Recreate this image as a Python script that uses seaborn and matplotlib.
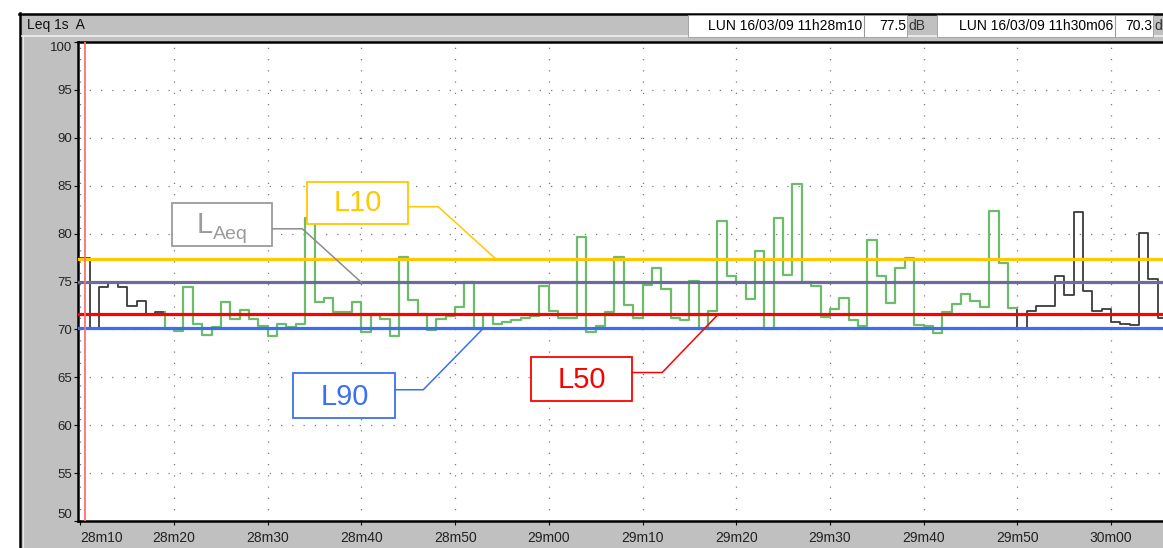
import numpy as np
import pandas as pd
import matplotlib
matplotlib.use("Agg")
import matplotlib.pyplot as plt
from matplotlib.patches import Rectangle
from matplotlib.lines import Line2D
import seaborn as sns

# One-second A-weighted Leq readings (dB), one per second from 11h28m10
leq_1s = [
    77.5, 70.1, 74.4, 75.0, 74.4, 72.4, 73.0, 71.6, 71.8, 70.0,   # 28m10
    69.8, 74.4, 70.6, 69.4, 70.3, 72.9, 71.1, 72.0, 71.1, 70.4,   # 28m20
    69.3, 70.6, 70.3, 70.6, 81.6, 72.9, 73.3, 71.8, 71.8, 72.9,   # 28m30
    69.7, 71.6, 71.1, 69.3, 77.6, 73.1, 71.6, 69.9, 71.1, 71.4,   # 28m40
    72.3, 75.0, 70.0, 71.6, 70.6, 70.8, 71.0, 71.2, 71.4, 74.5,   # 28m50
    71.9, 71.2, 71.2, 79.6, 69.7, 70.4, 71.8, 77.6, 72.5, 71.2,   # 29m00
    74.6, 76.4, 74.2, 71.2, 71.0, 75.1, 70.0, 71.9, 81.3, 75.6,   # 29m10
    74.9, 73.2, 78.2, 70.0, 81.6, 75.7, 85.2, 75.0, 74.5, 71.3,   # 29m20
    72.1, 73.3, 71.0, 70.4, 79.3, 75.6, 72.8, 76.4, 77.5, 70.5,   # 29m30
    70.4, 69.6, 71.8, 72.7, 73.7, 73.0, 72.3, 82.4, 76.9, 72.2,   # 29m40
    70.0, 71.9, 72.4, 72.4, 75.6, 73.6, 82.3, 74.0, 71.9, 72.1,   # 29m50
    70.8, 70.6, 70.5, 80.1, 75.3, 71.2, 70.3,                     # 30m00
]
# Highlighted selection of the record (sample indices, end exclusive)
selection_start, selection_end = 9, 100

# Statistical levels of the record (dB)
level_names = ["L10", "LAeq", "L50", "L90"]
level_values = [77.3, 74.9, 71.6, 70.1]
level_colors = ["#FFC800", "#6B6B9E", "#FF0000", "#3C6EF5"]

x_tick_seconds = [0, 10, 20, 30, 40, 50, 60, 70, 80, 90, 100, 110]
x_tick_labels = ["28m10", "28m20", "28m30", "28m40", "28m50", "29m00",
                 "29m10", "29m20", "29m30", "29m40", "29m50", "30m00"]
y_ticks = [50, 55, 60, 65, 70, 75, 80, 85, 90, 95, 100]

channel_label = "Leq 1s  A"
cursor_stamps = ["LUN 16/03/09 11h28m10", "LUN 16/03/09 11h30m06"]
cursor_samples = [0, 116]
unit = "dB"

FONT = ["Liberation Sans", "DejaVu Sans"]
plt.rcParams["font.family"] = FONT

W, H = 1163, 548
fig = plt.figure(figsize=(W / 100, H / 100), dpi=100)
fig.patch.set_facecolor("white")


def frect(x0, y0, x1, y1):
    """Figure-fraction rectangle from pixel edges measured from the top-left."""
    return [x0 / W, 1 - y1 / H, (x1 - x0) / W, (y1 - y0) / H]


def fx(x):
    return x / W


def fy(y):
    return 1 - y / H


# Window chrome: grey panel, black outer frame, header highlight
fig.patches.append(Rectangle((fx(20), 0), 1 - fx(20), fy(14), transform=fig.transFigure,
                             facecolor="#C0C0C0", edgecolor="none", zorder=-10))
fig.lines.append(Line2D([fx(19), 1], [fy(13.5), fy(13.5)], transform=fig.transFigure,
                        color="black", lw=1.8, zorder=-5))
fig.lines.append(Line2D([fx(20), fx(20)], [0, fy(13)], transform=fig.transFigure,
                        color="black", lw=1.8, zorder=-5))
fig.lines.append(Line2D([fx(22), 1], [fy(36), fy(36)], transform=fig.transFigure,
                        color="#F2F2F2", lw=1.2, zorder=-5))
fig.lines.append(Line2D([fx(23), fx(23)], [0, fy(36)], transform=fig.transFigure,
                        color="#E8E8E8", lw=0.8, zorder=-5))

fig.text(fx(27), fy(25), channel_label, fontsize=10, va="center", ha="left", color="#111111")

# Cursor read-out boxes in the header
box_specs = [(688, 864, 907), (937, 1115, 1153)]
for (bx0, bsep, bx1), stamp, idx in zip(box_specs, cursor_stamps, cursor_samples):
    fig.patches.append(Rectangle((fx(bx0), fy(37)), fx(bx1) - fx(bx0), fy(15) - fy(37),
                                 transform=fig.transFigure, facecolor="white",
                                 edgecolor="#9A9A9A", lw=0.6, zorder=-4))
    fig.lines.append(Line2D([fx(bsep), fx(bsep)], [fy(16), fy(36)], transform=fig.transFigure,
                            color="#9A9A9A", lw=0.8, zorder=-3))
    fig.text(fx(bsep - 2), fy(26), stamp, fontsize=10, ha="right", va="center")
    fig.text(fx(bx1 - 1), fy(26), f"{leq_1s[idx]:.1f}", fontsize=10, ha="right", va="center")
    fig.text(fx(bx1 + 1), fy(26), unit, fontsize=10, ha="left", va="center", color="#333333")

# Plot area
ax = fig.add_axes(frect(78, 42, 1163, 521))
ax.set_facecolor("white")
ax.set_xlim(-0.25, 115.55)
ax.set_ylim(50, 100)

# Build stepped runs: context (black) before and after the selection, selection in green
runs = [("context", 0, selection_start),
        ("selection", selection_start, selection_end),
        ("context", selection_end, len(leq_1s))]
records = []
for run_id, (part, a, b) in enumerate(runs):
    ts, vs = [], []
    if a > 0:
        ts.append(a)
        vs.append(leq_1s[a - 1])
    ts += list(range(a, b))
    vs += leq_1s[a:b]
    ts.append(b)
    vs.append(leq_1s[b - 1])
    for t, v in zip(ts, vs):
        records.append({"t": t, "level": v, "part": part, "run": run_id})
df = pd.DataFrame(records)

sns.lineplot(data=df[df["part"] == "context"], x="t", y="level", units="run",
             estimator=None, sort=False, color="#3A3A3A", linewidth=1.3,
             drawstyle="steps-post", legend=False, ax=ax, zorder=3)
sns.lineplot(data=df[df["part"] == "selection"], x="t", y="level", units="run",
             estimator=None, sort=False, color="#6CBC6C", linewidth=1.6,
             drawstyle="steps-post", legend=False, ax=ax, zorder=3)

# Statistical level lines
for val, col in zip(level_values, level_colors):
    ax.axhline(val, color=col, lw=2.3, zorder=4)

# Cursor
ax.axvline(0.45, color="#FF7070", lw=1.3, zorder=5)

# Grid and axes
ax.set_xticks(x_tick_seconds)
ax.set_xticklabels(x_tick_labels)
ax.set_yticks(y_ticks)
ax.set_yticklabels([str(v) for v in y_ticks])
ax.grid(True, color="#7A7A7A", linestyle=(0, (1, 8)), linewidth=0.9, zorder=1)
ax.set_axisbelow(True)
ax.tick_params(axis="both", direction="out", length=3, width=0.8, colors="black")
ax.tick_params(axis="x", pad=4, labelsize=10)
ax.tick_params(axis="y", pad=1, labelsize=9.5)
ylabels = ax.get_yticklabels()
ylabels[0].set_va("bottom")
ylabels[-1].set_va("top")
xlabels = ax.get_xticklabels()
xlabels[0].set_ha("left")
for lab in xlabels + ylabels:
    lab.set_color("#222222")
ax.set_xlabel("")
ax.set_ylabel("")
for side in ["left", "top", "bottom"]:
    ax.spines[side].set_color("black")
    ax.spines[side].set_linewidth(1.8)
ax.spines["right"].set_visible(False)

# Call-out boxes with leader lines to their level line
callouts = [
    # name, box (t0, v0, t1, v1), leader points (last one lands on the level line), text anchor
    ("L10", (24.2, 81.0, 35.0, 85.4), [(35.0, 82.8), (38.2, 82.8), 44.4], (29.6, 83.2)),
    ("LAeq", (9.8, 78.7, 20.5, 83.2), [(20.5, 80.5), (23.7, 80.5), 30.0], None),
    ("L50", (48.1, 62.5, 58.9, 67.1), [(58.9, 65.5), (62.1, 65.5), 68.1], (53.5, 64.7)),
    ("L90", (22.7, 60.8, 33.6, 65.4), [(33.6, 63.7), (36.6, 63.7), 43.0], (28.2, 62.9)),
]
for name, (t0, v0, t1, v1), leader, anchor in callouts:
    k = level_names.index(name)
    col = level_colors[k] if name != "LAeq" else "#9B9B9B"
    ax.add_patch(Rectangle((t0, v0), t1 - t0, v1 - v0, facecolor="white",
                           edgecolor=col, lw=1.3, zorder=6))
    xs = [p[0] for p in leader[:2]] + [leader[2]]
    ys = [p[1] for p in leader[:2]] + [level_values[k]]
    ax.plot(xs, ys, color=level_colors[k] if name != "LAeq" else "#8C8C8C",
            lw=1.1, zorder=6)
    if anchor is not None:
        ax.text(anchor[0], anchor[1], name, color=col, fontsize=21,
                ha="center", va="center", zorder=7)

# LAeq label with subscript
ax.text(12.4, 80.05, "L", color="#9B9B9B", fontsize=21, ha="left", va="baseline", zorder=7)
ax.text(14.2, 79.4, "Aeq", color="#9B9B9B", fontsize=14, ha="left", va="baseline", zorder=7)

fig.savefig("out.png", dpi=100)
